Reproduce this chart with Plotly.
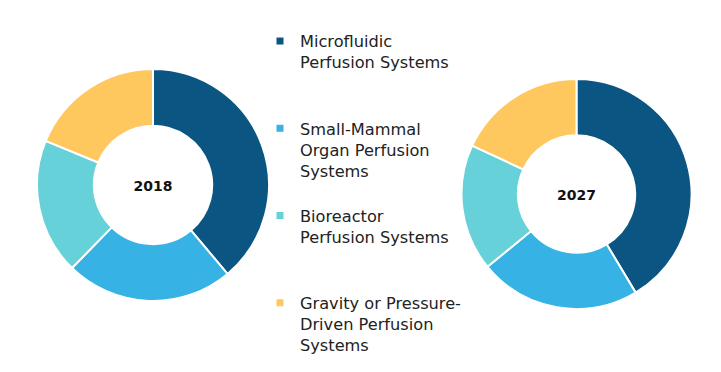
import plotly.graph_objects as go

categories = [
    "Microfluidic Perfusion Systems",
    "Small-Mammal Organ Perfusion Systems",
    "Bioreactor Perfusion Systems",
    "Gravity or Pressure-Driven Perfusion Systems",
]
legend_labels = [
    "Microfluidic<br>Perfusion Systems",
    "Small-Mammal<br>Organ Perfusion<br>Systems",
    "Bioreactor<br>Perfusion Systems",
    "Gravity or Pressure-<br>Driven Perfusion<br>Systems",
]
years = ["2018", "2027"]
values_2018 = [38.9, 23.4, 18.9, 18.8]
values_2027 = [41.4, 22.7, 17.8, 18.1]
colors = ["#0B5583", "#36B3E4", "#66D1D9", "#FFC85E"]

FONT = "DejaVu Sans"
W, H = 721, 392
fig = go.Figure()


def ydom(top, bottom):
    return [1 - bottom / H, 1 - top / H]


domains = [
    dict(x=[29 / W, 261 / W], y=ydom(61, 293)),
    dict(x=[453.5 / W, 683.5 / W], y=ydom(71, 301)),
]
for year, vals, dom in zip(years, [values_2018, values_2027], domains):
    fig.add_trace(go.Pie(
        labels=categories, values=vals, hole=0.51, sort=False,
        direction="clockwise", rotation=0,
        marker=dict(colors=colors, line=dict(color="white", width=2)),
        textinfo="none", hoverinfo="label+percent", showlegend=False,
        domain=dom,
        title=dict(text=f"<b>{year}</b>", position="middle center",
                   font=dict(family=FONT, size=14, color="#111")),
    ))

# legend entries (pad lines so every entry occupies 4 lines)
for cat, lab, col in zip(categories, legend_labels, colors):
    n = lab.count("<br>") + 1
    text = lab + "<br>\u00a0" * (4 - n) if n < 4 else lab
    fig.add_trace(go.Scatter(
        x=[None], y=[None], mode="markers", name=text,
        marker=dict(symbol="square", size=7, color=col),
        showlegend=True, hoverinfo="skip",
    ))

fig.update_layout(
    width=W, height=H,
    margin=dict(l=0, r=0, t=0, b=0),
    paper_bgcolor="white", plot_bgcolor="white",
    xaxis=dict(visible=False), yaxis=dict(visible=False),
    legend=dict(
        x=252 / W, xanchor="left", y=1 - 16 / H, yanchor="top",
        valign="top", font=dict(family=FONT, size=16.2, color="#222"),
        bgcolor="rgba(0,0,0,0)", itemclick=False, itemdoubleclick=False,
        tracegroupgap=0,
    ),
    showlegend=True,
)

fig.write_html("out.html")
